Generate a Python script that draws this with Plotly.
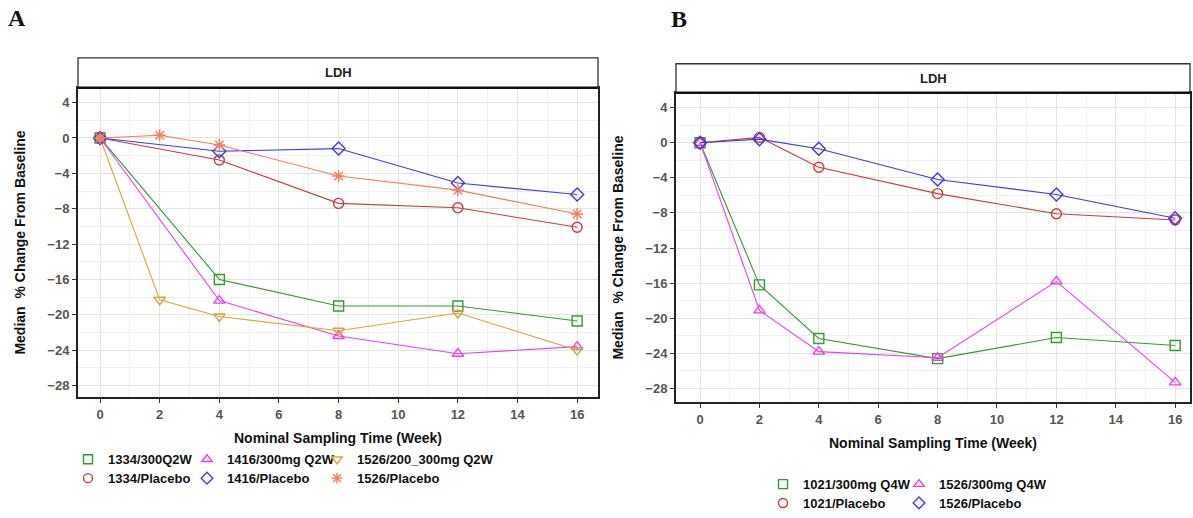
import plotly.graph_objects as go

W, H = 1193, 518

# ---------------- data ----------------
# Panel A
a_weeks5 = [0, 4, 8, 12, 16]
a_weeks6 = [0, 2, 4, 8, 12, 16]
a_1334_300 = [0, -16.0, -19.0, -19.0, -20.7]
a_1416_300 = [0, -18.4, -22.4, -24.4, -23.6]
a_1526_200_300 = [0, -18.3, -20.2, -21.8, -19.8, -24.0]
a_1334_pbo = [0, -2.5, -7.4, -7.9, -10.1]
a_1416_pbo = [0, -1.5, -1.2, -5.1, -6.4]
a_1526_pbo = [0, 0.3, -0.8, -4.3, -5.9, -8.6]

# Panel B
b_weeks = [0, 2, 4, 8, 12, 16]
b_1021_300 = [0, -16.2, -22.3, -24.6, -22.2, -23.1]
b_1526_300 = [0, -19.1, -23.8, -24.5, -15.8, -27.3]
b_1021_pbo = [0, 0.6, -2.8, -5.8, -8.1, -8.8]
b_1526_pbo = [0, 0.4, -0.7, -4.2, -5.9, -8.6]

x_ticks = [0, 2, 4, 6, 8, 10, 12, 14, 16]
y_ticks = [4, 0, -4, -8, -12, -16, -20, -24, -28]
strip_label = "LDH"
x_title = "Nominal Sampling Time (Week)"
y_title = "Median  % Change From Baseline"

GREEN = "#2e9e2e"
MAGENTA = "#f03cf0"
GOLD = "#d9a63a"
RED = "#cc3b3b"
BLUE = "#3b3bf0"
SALMON = "#fa7a5a"

# (name, x, y, color, symbol, panel, legend x px, legend top y px)
series = [
    ("1334/300Q2W", a_weeks5, a_1334_300, GREEN, "square-open", "A", 68, 446),
    ("1416/300mg Q2W", a_weeks5, a_1416_300, MAGENTA, "triangle-up-open", "A", 187, 446),
    ("1526/200_300mg Q2W", a_weeks6, a_1526_200_300, GOLD, "triangle-down-open", "A", 317, 446),
    ("1334/Placebo", a_weeks5, a_1334_pbo, RED, "circle-open", "A", 68, 465),
    ("1416/Placebo", a_weeks5, a_1416_pbo, BLUE, "diamond-open", "A", 187, 465),
    ("1526/Placebo", a_weeks6, a_1526_pbo, SALMON, "asterisk-open", "A", 317, 465),
    ("1021/300mg Q4W", b_weeks, b_1021_300, GREEN, "square-open", "B", 763, 471),
    ("1526/300mg Q4W", b_weeks, b_1526_300, MAGENTA, "triangle-up-open", "B", 899, 471),
    ("1021/Placebo", b_weeks, b_1021_pbo, RED, "circle-open", "B", 763, 490),
    ("1526/Placebo", b_weeks, b_1526_pbo, BLUE, "diamond-open", "B", 899, 490),
]

FONT = "Liberation Sans"

def px(x):
    return x / W

def py(y):
    return 1 - y / H

fig = go.Figure()

legend_layouts = {}
for i, (name, xs, ys, col, sym, panel, lx, ly) in enumerate(series):
    xa, ya = ("x", "y") if panel == "A" else ("x2", "y2")
    fig.add_trace(go.Scatter(
        x=xs, y=ys, mode="lines+markers", xaxis=xa, yaxis=ya,
        line=dict(color=col, width=1.1),
        marker=dict(symbol=sym, size=10, color=col, line=dict(color=col, width=1.4)),
        showlegend=False, name=name,
    ))
    lid = "legend" if i == 0 else f"legend{i+1}"
    fig.add_trace(go.Scatter(
        x=[None], y=[None], mode="markers", xaxis=xa, yaxis=ya,
        marker=dict(symbol=sym, size=9, color=col, line=dict(color=col, width=1.4)),
        name=name, showlegend=True, legend=lid,
    ))
    legend_layouts[lid] = dict(
        x=px(lx), y=py(ly), xanchor="left", yanchor="top",
        orientation="h", bgcolor="rgba(0,0,0,0)", borderwidth=0,
        font=dict(family=FONT, size=13, color="#111111", weight="bold"),
        itemwidth=30, tracegroupgap=0,
    )

common_axis = dict(
    showgrid=True, gridcolor="#e4e4e4", gridwidth=1.3,
    zeroline=False, showline=True, linecolor="#222222", linewidth=2,
    mirror=True, ticks="outside", ticklen=4, tickwidth=1.3, tickcolor="#333333",
    tickfont=dict(family=FONT, size=13, color="#555555", weight="bold"),
)

x_common = dict(common_axis, tickvals=x_ticks,
                minor=dict(dtick=1, tick0=1, showgrid=True, gridcolor="#f0f0f0", gridwidth=1),
                title=dict(text=x_title, font=dict(family=FONT, size=14, color="#111111", weight="bold"), standoff=12))
y_common = dict(common_axis, tickvals=y_ticks,
                minor=dict(dtick=2, tick0=2, showgrid=True, gridcolor="#f0f0f0", gridwidth=1),
                title=dict(text=y_title, font=dict(family=FONT, size=14, color="#111111", weight="bold"), standoff=18))

fig.update_layout(
    width=W, height=H, margin=dict(l=0, r=0, t=0, b=0),
    paper_bgcolor="white", plot_bgcolor="white",
    xaxis=dict(x_common, domain=[px(78), px(598)], range=[-0.74, 16.70], anchor="y"),
    yaxis=dict(y_common, domain=[py(399), py(88)], range=[-29.35, 5.69], anchor="x"),
    xaxis2=dict(x_common, domain=[px(676), px(1190)], range=[-0.81, 16.5], anchor="y2"),
    yaxis2=dict(y_common, domain=[py(404), py(93)], range=[-29.59, 5.70], anchor="x2"),
    **legend_layouts,
)

# strips
for (x0, x1, y0, y1) in [(78, 598, 58, 88), (676, 1190, 64, 93)]:
    fig.add_shape(type="rect", xref="paper", yref="paper",
                  x0=px(x0), x1=px(x1), y0=py(y1), y1=py(y0),
                  fillcolor="white", line=dict(color="#333333", width=1.3))
    fig.add_shape(type="line", xref="paper", yref="paper",
                  x0=px(x0), x1=px(x1), y0=py(y1), y1=py(y1),
                  line=dict(color="#111111", width=2.5))
    fig.add_annotation(xref="paper", yref="paper", x=px((x0 + x1) / 2), y=py((y0 + y1) / 2),
                       xanchor="center", yanchor="middle",
                       text=strip_label, showarrow=False,
                       font=dict(family=FONT, size=13, color="#222222", weight="bold"))

# panel letters
for letter, lx, ly in [("A", 17, 18), ("B", 679, 19)]:
    fig.add_annotation(xref="paper", yref="paper", x=px(lx), y=py(ly), text=letter,
                       xanchor="center", yanchor="middle",
                       showarrow=False, font=dict(family="Liberation Serif", size=24, color="#111111", weight="bold"))

fig.write_html("out.html")
